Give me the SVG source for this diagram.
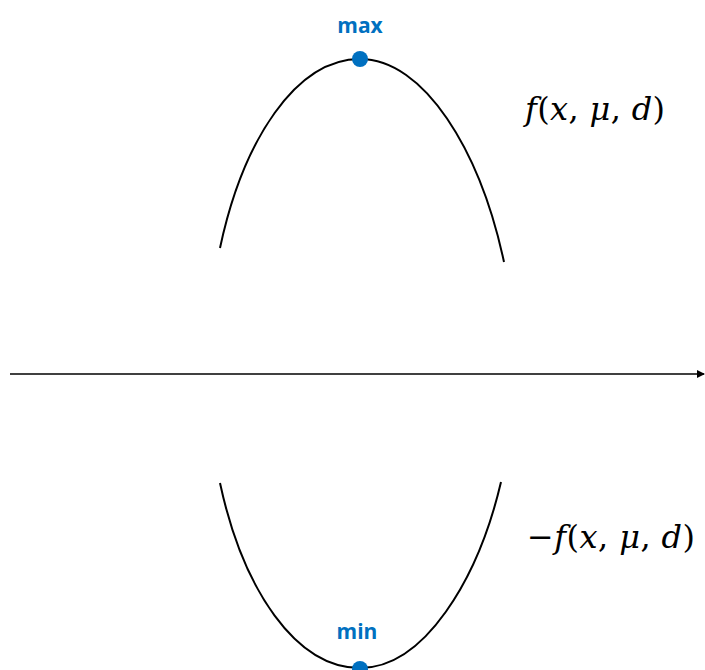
<svg xmlns="http://www.w3.org/2000/svg" width="705" height="670" viewBox="0 0 705 670">
<style>
.curve{fill:none;stroke:#000;stroke-width:2}
.lbl{font-family:"Open Sans","Liberation Sans",sans-serif;font-weight:bold;font-size:21px;fill:#0070C0;text-anchor:middle}
.math{font-family:"DejaVu Serif","Liberation Serif",serif;font-size:32px;fill:#000}
.i{font-style:italic}
.dot{fill:#0070C0}
</style>
<defs>
<marker id="arr" markerWidth="8" markerHeight="8" refX="7" refY="4" orient="auto" markerUnits="userSpaceOnUse">
<path d="M0,0 L8,4 L0,8 Z" fill="#000"/>
</marker>
</defs>
<rect width="705" height="670" fill="#fff"/>
<g id="connectors">
<line x1="10" y1="374" x2="704" y2="374" stroke="#000" stroke-width="1.5" marker-end="url(#arr)"/>
</g>
<g id="upper">
<path class="curve" d="M220,248 C243,140 296,59 360,59 C424,59 480,150 504,262"/>
<circle class="dot" cx="360" cy="59" r="8"/>
<text class="lbl" x="360" y="33">max</text>
<text class="math" x="525" y="120" textLength="140" lengthAdjust="spacing"><tspan class="i">f</tspan>(<tspan class="i">x</tspan>, <tspan class="i">μ</tspan>, <tspan class="i">d</tspan>)</text>
</g>
<g id="lower">
<path class="curve" d="M220,483 C243,590 296,668 360,668 C424,668 478,580 501,482"/>
<circle class="dot" cx="360" cy="669" r="8"/>
<text class="lbl" x="357" y="639">min</text>
<text class="math" x="527" y="548" textLength="168" lengthAdjust="spacing">−<tspan class="i">f</tspan>(<tspan class="i">x</tspan>, <tspan class="i">μ</tspan>, <tspan class="i">d</tspan>)</text>
</g>
</svg>
